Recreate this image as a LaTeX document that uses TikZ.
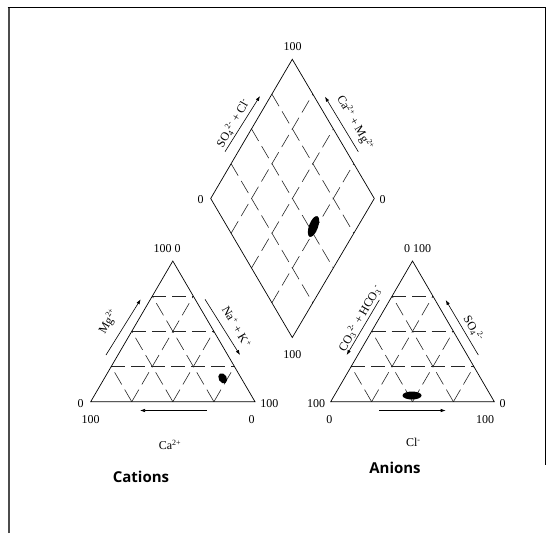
\documentclass[tikz,border=0pt]{standalone}
\usepackage{fontspec}
\setmainfont{Liberation Serif}
\newfontfamily\headfont{Open Sans}
\usetikzlibrary{calc,arrows.meta}
\begin{document}
\begin{tikzpicture}[x=1pt,y=-1pt,
	edge/.style={draw=black,line width=0.7pt},
	gridline/.style={draw=black!85,line width=0.6pt,dash pattern=on 14pt off 6pt},
	axisarrow/.style={draw=black,line width=0.6pt,-{Latex[length=5pt,width=3.5pt]}},
	num/.style={font=\fontsize{12}{13}\selectfont,inner sep=0pt},
	ionlabel/.style={font=\fontsize{12}{13}\selectfont,inner sep=0pt},
	title/.style={font=\headfont\bfseries\fontsize{15}{17}\selectfont,inner sep=0pt}]
	\useasboundingbox (0,0) rectangle (553,533);
	\draw[black!70,line width=2pt] (8.5,533) -- (8.5,7);
	\draw[black,line width=0.8pt] (7.5,7) -- (545,7) -- (545,465);
	% corners
	\coordinate (A1) at (90.7,401.7);
	\coordinate (B1) at (255,401.7);
	\coordinate (C1) at (172.8,261);
	\coordinate (A2) at (330.7,401.7);
	\coordinate (B2) at (494.3,401.7);
	\coordinate (C2) at (412.5,261);
	\coordinate (T) at (292.3,59.3);
	\coordinate (L) at (210.7,198.5);
	\coordinate (R) at (374.3,198.5);
	\coordinate (D) at (292.3,337.5);
	% grids
	\foreach \t in {1,2}{
		\foreach \i in {1,2,3}{
			\draw[gridline] ($(A\t)!\i/4!(C\t)$) -- ($(B\t)!\i/4!(C\t)$);
			\draw[gridline] ($(A\t)!\i/4!(B\t)$) -- ($(C\t)!\i/4!(B\t)$);
			\draw[gridline] ($(A\t)!\i/4!(B\t)$) -- ($(A\t)!\i/4!(C\t)$);
		}
		\draw[edge] (A\t) -- (B\t) -- (C\t) -- cycle;
	}
	\foreach \i in {1,2,3}{
		\draw[gridline] ($(L)!\i/4!(D)$) -- ($(T)!\i/4!(R)$);
		\draw[gridline] ($(L)!\i/4!(T)$) -- ($(D)!\i/4!(R)$);
	}
	\draw[edge] (T) -- (R) -- (D) -- (L) -- cycle;
	% scale numbers
	\node[num] (dtop) at (292.5,46.5) {100};
	\node[num] (dleft) at (200.7,200) {0};
	\node[num] (dright) at (382.7,200) {0};
	\node[num] (dbot) at (292.3,355) {100};
	\node[num] (lapex) at (167,249) {100 0};
	\node[num] (lbla) at (80.7,403.3) {0};
	\node[num] (lblb) at (90.7,419.3) {100};
	\node[num] (lbra) at (269.3,403.3) {100};
	\node[num] (lbrb) at (251.7,419.3) {0};
	\node[num] (rapex) at (417.5,249) {0 100};
	\node[num] (rbla) at (316,403.3) {100};
	\node[num] (rblb) at (329.3,419.3) {0};
	\node[num] (rbra) at (502.7,403.3) {0};
	\node[num] (rbrb) at (485,419.3) {100};
	% axis arrows
	\coordinate (lmgS) at (106,355);
	\coordinate (lmgE) at (140.7,299.3);
	\coordinate (lnaS) at (205,299.3);
	\coordinate (lnaE) at (240,355);
	\coordinate (lcaS) at (206.7,410.5);
	\coordinate (lcaE) at (140,410.5);
	\coordinate (rcoS) at (379.3,300);
	\coordinate (rcoE) at (346.7,355);
	\coordinate (rsoS) at (478.3,355);
	\coordinate (rsoE) at (445.7,300);
	\coordinate (rclS) at (379,410.5);
	\coordinate (rclE) at (445.7,410.5);
	\coordinate (dsoS) at (225,151.7);
	\coordinate (dsoE) at (260,96);
	\coordinate (dcaS) at (358.3,151.7);
	\coordinate (dcaE) at (325,96.7);
	\foreach \a in {lmg,lna,lca,rco,rso,rcl,dso,dca}
		\draw[axisarrow] (\a S) -- (\a E);
	% ion labels
	\node[ionlabel] (ca) at (170,445) {Ca\textsuperscript{2+}};
	\node[ionlabel] (cl) at (413.3,442.7) {Cl\textsuperscript{-}};
	\node[ionlabel,rotate=60] (mg) at (108.3,321.7) {Mg\textsuperscript{2+}};
	\node[ionlabel,rotate=-60] (nak) at (236.7,326.7) {Na\textsuperscript{+} + K\textsuperscript{+}};
	\node[ionlabel,rotate=60] (co) at (360,318) {CO\textsubscript{3}\textsuperscript{2-} + HCO\textsubscript{3}\textsuperscript{-}};
	\node[ionlabel,rotate=-60] (so) at (473.3,328.3) {SO\textsubscript{4}\textsuperscript{2-}};
	\node[ionlabel,rotate=60] (socl) at (233,123) {SO\textsubscript{4}\textsuperscript{2-} + Cl\textsuperscript{-}};
	\node[ionlabel,rotate=-60] (camg) at (355,123) {Ca\textsuperscript{2+} + Mg\textsuperscript{2+}};
	% samples
	\fill[rotate around={-20:(313.5,226.5)}] (313.5,226.5) ellipse [x radius=4.5,y radius=11];
	\fill[rotate around={30:(222.7,378.3)}] (222.7,378.3) ellipse [x radius=4,y radius=5.5];
	\fill (412,395.5) ellipse [x radius=9.5,y radius=4];
	\node[title] (cations) at (141,476.5) {Cations};
	\node[title] (anions) at (395,467.4) {Anions};
\end{tikzpicture}
\end{document}
